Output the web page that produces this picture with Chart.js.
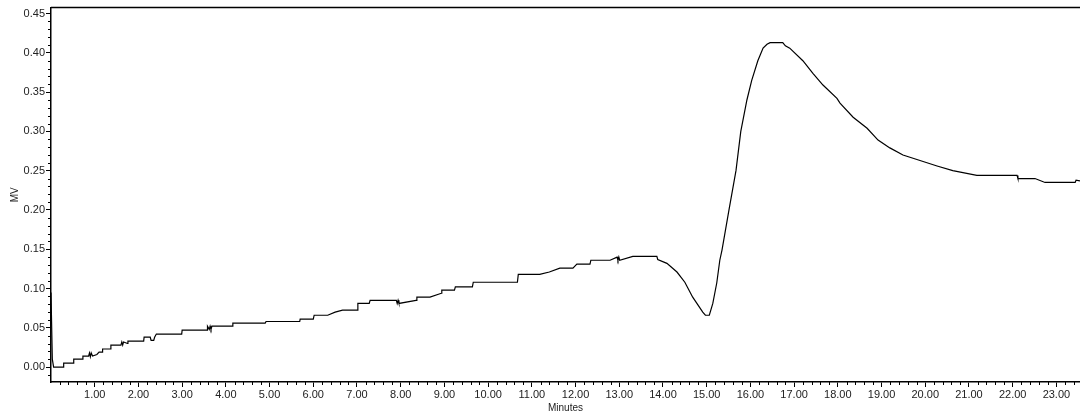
<!DOCTYPE html>
<html>
<head>
<meta charset="utf-8">
<title>Chromatogram</title>
<script src="https://cdn.jsdelivr.net/npm/chart.js@4.4.1/dist/chart.umd.min.js"></script>
<style>
    html, body { margin: 0; padding: 0; background: #fff; }
    #wrap { width: 1080px; height: 414px; position: relative; }
</style>
</head>
<body>
<div id="wrap"><canvas id="chromChart"></canvas></div>
<script>
// Trace (time in minutes, signal in MV)
const timeMin = [
    0.00, 0.03, 0.06, 0.29, 0.29, 0.51, 0.52, 0.72, 0.73, 0.86, 0.88, 0.90, 0.92, 0.95, 1.05, 1.10,
    1.17, 1.18, 1.36, 1.37, 1.60, 1.62, 1.64, 1.66, 1.75, 1.76, 2.12, 2.13, 2.27, 2.29, 2.35, 2.37,
    2.41, 2.99, 3.00, 3.57, 3.58, 3.62, 3.64, 3.66, 3.68, 3.70, 4.15, 4.16, 4.90, 4.92, 5.69, 5.70,
    6.00, 6.02, 6.33, 6.50, 6.67, 7.01, 7.02, 7.28, 7.30, 7.90, 7.92, 7.94, 7.96, 8.35, 8.37, 8.67,
    8.93, 8.94, 9.23, 9.25, 9.64, 9.66, 10.67, 10.69, 11.18, 11.40, 11.64, 11.94, 12.03, 12.33, 12.35, 12.79,
    12.95, 12.97, 12.99, 13.01, 13.31, 13.86, 13.88, 14.09, 14.32, 14.50, 14.68, 14.91, 14.97, 15.06,
    15.14, 15.23, 15.30, 15.35, 15.51, 15.67, 15.78, 15.92, 16.03, 16.17, 16.29, 16.38, 16.45, 16.74,
    16.80, 16.90, 17.20, 17.43, 17.66, 17.98, 18.05, 18.35, 18.67, 18.92, 19.19, 19.49, 19.88, 20.27,
    20.63, 21.18, 22.10, 22.12, 22.51, 22.74, 23.43, 23.45, 23.54
];
const signalMV = [
    0.095, 0.010, 0.000, 0.000, 0.005, 0.005, 0.010, 0.010, 0.014, 0.014, 0.018, 0.013, 0.018, 0.014, 0.016, 0.019,
    0.019, 0.023, 0.023, 0.028, 0.028, 0.032, 0.028, 0.032, 0.030, 0.033, 0.033, 0.038, 0.038, 0.034, 0.034, 0.038,
    0.042, 0.042, 0.047, 0.047, 0.052, 0.048, 0.052, 0.048, 0.052, 0.052, 0.052, 0.056, 0.056, 0.058, 0.058, 0.061,
    0.061, 0.066, 0.066, 0.070, 0.0725, 0.0725, 0.081, 0.081, 0.085, 0.085, 0.081, 0.085, 0.081, 0.085, 0.089, 0.089,
    0.094, 0.098, 0.098, 0.102, 0.102, 0.108, 0.108, 0.118, 0.118, 0.121, 0.126, 0.126, 0.131, 0.131, 0.136, 0.136,
    0.140, 0.136, 0.140, 0.136, 0.141, 0.141, 0.137, 0.132, 0.121, 0.108, 0.089, 0.070, 0.066, 0.066,
    0.081, 0.107, 0.136, 0.149, 0.200, 0.250, 0.300, 0.340, 0.365, 0.390, 0.406, 0.411, 0.413, 0.413,
    0.409, 0.406, 0.390, 0.374, 0.359, 0.342, 0.336, 0.318, 0.304, 0.289, 0.279, 0.270, 0.263, 0.256,
    0.250, 0.244, 0.244, 0.240, 0.240, 0.235, 0.235, 0.238, 0.237
];

// Axis ticks
const xMajorTicks = [1, 2, 3, 4, 5, 6, 7, 8, 9, 10, 11, 12, 13, 14, 15, 16, 17, 18, 19, 20, 21, 22, 23];
const yMajorTicks = [0.00, 0.05, 0.10, 0.15, 0.20, 0.25, 0.30, 0.35, 0.40, 0.45];
const xMinorStep = 0.2;
const yMinorStep = 0.01;

// Small ticks between the labelled ones + the frame line on top
const minorTicks = {
    id: 'minorTicks',
    afterDraw(chart) {
        const ctx = chart.ctx;
        const xs = chart.scales.x, ys = chart.scales.y;
        const area = chart.chartArea;
        ctx.save();
        ctx.strokeStyle = '#000';
        ctx.lineWidth = 1;
        ctx.beginPath();
        for (let i = 1; i * xMinorStep <= xs.max; i++) {
            if (i % 5 === 0) continue;
            const px = Math.round(xs.getPixelForValue(i * xMinorStep)) + 0.5;
            ctx.moveTo(px, area.bottom);
            ctx.lineTo(px, area.bottom + 3);
        }
        for (let j = -1; j * yMinorStep <= ys.max; j++) {
            if (j % 5 === 0) continue;
            const py = Math.round(ys.getPixelForValue(j * yMinorStep)) + 0.5;
            ctx.moveTo(area.left - 3, py);
            ctx.lineTo(area.left, py);
        }
        ctx.stroke();

        ctx.lineWidth = 1.5;
        ctx.beginPath();
        ctx.moveTo(area.left, area.top);
        ctx.lineTo(area.right, area.top);
        ctx.stroke();
        ctx.restore();
    }
};

function renderChart() {
    const ctx = document.getElementById('chromChart').getContext('2d');
    const points = timeMin.map((t, i) => ({ x: t, y: signalMV[i] }));
    const axisFont = { family: '"Liberation Sans", Arial, sans-serif', size: 11 };

    window.chromChart = new Chart(ctx, {
        type: 'line',
        data: {
            datasets: [{
                data: points,
                borderColor: '#000',
                borderWidth: 1.2,
                pointRadius: 0,
                tension: 0,
                fill: false
            }]
        },
        options: {
            responsive: true,
            maintainAspectRatio: false,
            animation: false,
            layout: { padding: { top: 7, right: 0, left: 0, bottom: 0 } },
            plugins: { legend: { display: false }, tooltip: { enabled: false } },
            scales: {
                x: {
                    type: 'linear',
                    min: 0,
                    max: 23.54,
                    afterBuildTicks: s => { s.ticks = xMajorTicks.map(v => ({ value: v })); },
                    afterFit: s => { s.height = 32; },
                    ticks: {
                        color: '#222',
                        font: axisFont,
                        padding: 1,
                        maxRotation: 0,
                        autoSkip: false,
                        callback: v => Number(v).toFixed(2)
                    },
                    grid: { display: true, drawOnChartArea: false, drawTicks: true, tickLength: 5, color: '#000' },
                    border: { display: true, color: '#000', width: 1.5 },
                    title: { display: true, text: 'Minutes', color: '#222', font: { family: axisFont.family, size: 10 }, padding: { top: 0, bottom: 0 } }
                },
                y: {
                    min: -0.019,
                    max: 0.4576,
                    afterBuildTicks: s => { s.ticks = yMajorTicks.map(v => ({ value: v })); },
                    afterFit: s => { s.width = 51; },
                    ticks: {
                        color: '#222',
                        font: axisFont,
                        padding: 1,
                        autoSkip: false,
                        callback: v => Number(v).toFixed(2)
                    },
                    grid: { display: true, drawOnChartArea: false, drawTicks: true, tickLength: 5, color: '#000' },
                    border: { display: true, color: '#000', width: 1.5 },
                    title: { display: true, text: 'MV', color: '#222', font: { family: axisFont.family, size: 10 }, padding: { top: 9, bottom: 0 } }
                }
            }
        },
        plugins: [minorTicks]
    });
}

document.addEventListener('DOMContentLoaded', renderChart);
</script>
</body>
</html>
